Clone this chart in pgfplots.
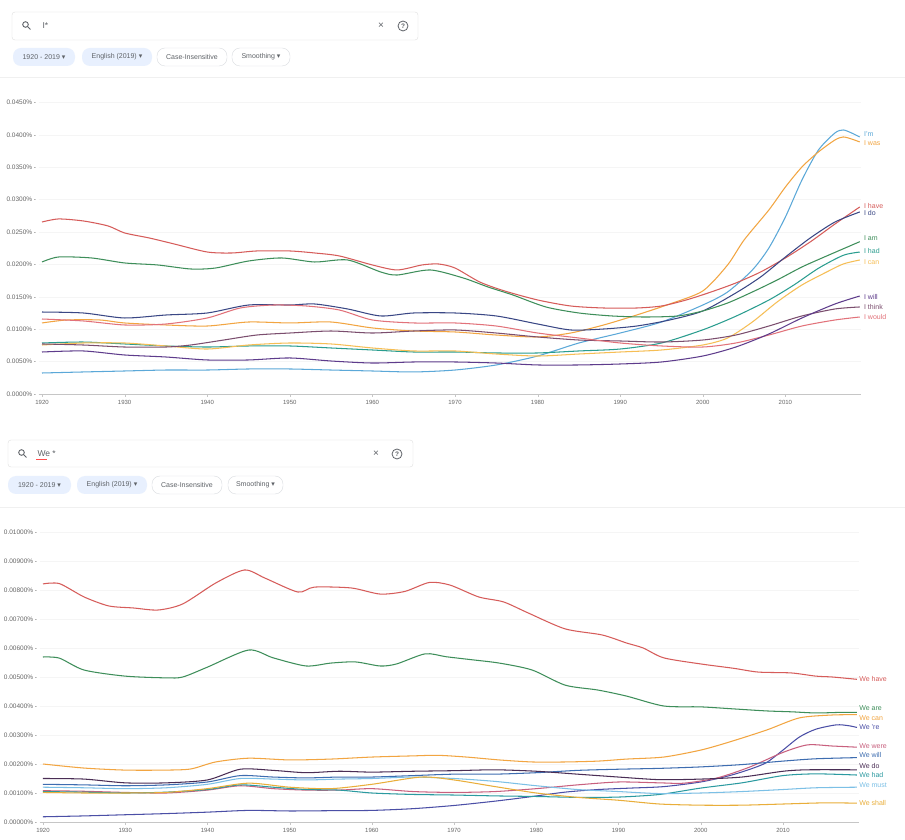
\documentclass[border=0pt]{standalone}
\usepackage{fontspec}
\setmainfont{Liberation Sans}
\newfontfamily\sym{DejaVu Sans}
\usepackage{pgfplots}
\pgfplotsset{compat=1.18}

% top chart colours
\definecolor{cRed}{HTML}{D65C5A}
\definecolor{cGreen}{HTML}{3E8E5A}
\definecolor{cNavy}{HTML}{3A4785}
\definecolor{cOrange}{HTML}{F2A541}
\definecolor{cLBlue}{HTML}{5BA8D8}
\definecolor{cTeal}{HTML}{2A9D8F}
\definecolor{cYellow}{HTML}{F6BE55}
\definecolor{cPurple}{HTML}{5E3C8C}
\definecolor{cThink}{HTML}{7B4E6E}
\definecolor{cPink}{HTML}{E2727A}
% bottom chart colours
\definecolor{bIndigo}{HTML}{4B4FA6}
\definecolor{bPink}{HTML}{C8607E}
\definecolor{bBlue}{HTML}{3E6DB0}
\definecolor{bDark}{HTML}{4A2E55}
\definecolor{bTeal}{HTML}{2B9AA0}
\definecolor{bSky}{HTML}{7CC0E6}
\definecolor{bGold}{HTML}{E9AE3A}
% ui
\definecolor{chipblue}{HTML}{E8F0FE}
\definecolor{uigray}{HTML}{5F6368}
\definecolor{uiline}{HTML}{DADCE0}

\pgfplotsset{ngram/.style={
    scale only axis, no markers,
    xmin=1919.6, xmax=2019.2, ymin=0,
    axis x line*=bottom, axis y line*=left,
    x axis line style={-, draw=gray!45},
    y axis line style={draw=none},
    ytick style={draw=none}, xtick style={draw=gray!45},
    tick align=outside, major tick length=3pt,
    scaled y ticks=false,
    xtick={1920,1930,1940,1950,1960,1970,1980,1990,2000,2010},
    xticklabels={1920,1930,1940,1950,1960,1970,1980,1990,2000,2010},
    ymajorgrids, major grid style={gray!8},
    ticklabel style={text=gray!80!black},
    xticklabel style={font=\fontsize{6}{7}\selectfont},
    yticklabel style={font=\fontsize{6.5}{7}\selectfont, xshift=4pt},
    every axis plot/.append style={line width=1.05pt, smooth, tension=0.45},
    clip=false,
}}
\tikzset{lab/.style={anchor=west, inner sep=0.5pt, font=\fontsize{7}{8}\selectfont},
         chip/.style={font=\fontsize{7}{8}\selectfont, text=uigray}}

\begin{document}
\begin{tikzpicture}
\path[use as bounding box, fill=white] (0,0) rectangle (905pt,839pt);

% search bars and chips (y measured from the top)
\begin{scope}[x=1pt, y=-1pt, yshift=839pt]
  % top
  \draw[gray!25, rounded corners=3pt, fill=white] (12,12) rectangle (418,40);
  \draw[uigray, line width=0.9pt] (25.5,24.5) circle (2.8pt);
  \draw[uigray, line width=1pt] (27.6,26.6) -- (30.5,29.5);
  \node[anchor=west, font=\fontsize{8.5}{9}\selectfont, text=uigray] at (39,26) {I*};
  \node[font=\fontsize{10}{10}\selectfont, text=uigray] at (381,26) {×};
  \draw[uigray, line width=0.8pt] (403,26) circle (5pt);
  \node[font=\fontsize{6.5}{7}\selectfont\bfseries, text=uigray] at (403,26) {?};
  \fill[chipblue, rounded corners=8pt] (13,48) rectangle (75,66);
  \node[chip] at (44,57) {1920 - 2019 {\sym ▾}};
  \fill[chipblue, rounded corners=8pt] (82,48) rectangle (152,66);
  \node[chip] at (117,57) {English (2019) {\sym ▾}};
  \draw[uiline, rounded corners=8pt] (157,48) rectangle (227,66);
  \node[chip] at (192,57) {Case-Insensitive};
  \draw[uiline, rounded corners=8pt] (232,48) rectangle (290,66);
  \node[chip] at (261,57) {Smoothing {\sym ▾}};
  \draw[gray!12, line width=0.8pt] (0,77) -- (905,77);
  % bottom
  \draw[gray!25, rounded corners=3pt, fill=white] (8,440) rectangle (413,467);
  \draw[uigray, line width=0.9pt] (21.5,452.5) circle (2.8pt);
  \draw[uigray, line width=1pt] (23.6,454.6) -- (26.5,457.5);
  \node[anchor=west, font=\fontsize{8.5}{9}\selectfont, text=uigray] at (34,454) {We *};
  \draw[red!70, line width=0.6pt] (36,459.5) -- (47,459.5);
  \node[font=\fontsize{10}{10}\selectfont, text=uigray] at (376,454) {×};
  \draw[uigray, line width=0.8pt] (397,454) circle (5pt);
  \node[font=\fontsize{6.5}{7}\selectfont\bfseries, text=uigray] at (397,454) {?};
  \fill[chipblue, rounded corners=8pt] (8,476) rectangle (71,494);
  \node[chip] at (39.5,485) {1920 - 2019 {\sym ▾}};
  \fill[chipblue, rounded corners=8pt] (77,476) rectangle (147,494);
  \node[chip] at (112,485) {English (2019) {\sym ▾}};
  \draw[uiline, rounded corners=8pt] (152,476) rectangle (222,494);
  \node[chip] at (187,485) {Case-Insensitive};
  \draw[uiline, rounded corners=8pt] (228,476) rectangle (283,494);
  \node[chip] at (255.5,485) {Smoothing {\sym ▾}};
  \draw[gray!12, line width=0.8pt] (0,507) -- (905,507);
\end{scope}

% ---------- I* ----------
\begin{axis}[ngram, at={(38.7pt,445pt)}, anchor=south west,
    width=822.7pt, height=304.6pt, ymax=0.047,
    ytick={0,0.005,0.01,0.015,0.02,0.025,0.03,0.035,0.04,0.045},
    yticklabels={0.0000\% -,0.0050\% -,0.0100\% -,0.0150\% -,0.0200\% -,
                 0.0250\% -,0.0300\% -,0.0350\% -,0.0400\% -,0.0450\% -}]
\addplot[cLBlue] coordinates {(1920,0.00324)(1925,0.00340)(1930,0.00355)(1935,0.00370)(1940,0.00370)(1945,0.00386)(1950,0.00386)(1955,0.00370)(1960,0.00355)(1965,0.00340)(1970,0.00370)(1975,0.00448)(1980,0.00586)(1985,0.00787)(1990,0.00941)(1995,0.01111)(2000,0.01373)(2003,0.01574)(2006,0.01914)(2008,0.02253)(2010,0.02731)(2012,0.03302)(2014,0.03765)(2016,0.04028)(2017,0.04074)(2018,0.04028)(2019,0.03966)};
\addplot[cOrange] coordinates {(1920,0.01096)(1923,0.01142)(1927,0.01142)(1930,0.01096)(1935,0.01065)(1940,0.01049)(1945,0.01111)(1950,0.01096)(1955,0.01111)(1960,0.01019)(1965,0.00972)(1970,0.00957)(1975,0.00910)(1980,0.00880)(1984,0.00941)(1988,0.01065)(1992,0.01219)(1996,0.01389)(2000,0.01590)(2003,0.01991)(2005,0.02377)(2008,0.02840)(2010,0.03194)(2012,0.03503)(2014,0.03735)(2016,0.03920)(2017,0.03966)(2018,0.03935)(2019,0.03889)};
\addplot[cRed] coordinates {(1920,0.02654)(1922,0.02701)(1925,0.02670)(1928,0.02593)(1930,0.02485)(1933,0.02407)(1936,0.02315)(1940,0.02191)(1943,0.02176)(1946,0.02207)(1950,0.02207)(1953,0.02176)(1956,0.02130)(1960,0.01991)(1963,0.01914)(1966,0.01991)(1968,0.02006)(1970,0.01944)(1973,0.01728)(1976,0.01590)(1980,0.01451)(1984,0.01358)(1988,0.01327)(1992,0.01327)(1995,0.01358)(1998,0.01451)(2001,0.01574)(2004,0.01713)(2007,0.01883)(2010,0.02099)(2013,0.02346)(2016,0.02623)(2019,0.02886)};
\addplot[cNavy] coordinates {(1920,0.01265)(1925,0.01250)(1930,0.01173)(1935,0.01219)(1940,0.01250)(1945,0.01373)(1950,0.01373)(1953,0.01389)(1957,0.01312)(1961,0.01204)(1965,0.01250)(1970,0.01250)(1975,0.01204)(1980,0.01080)(1984,0.00988)(1988,0.01003)(1992,0.01049)(1996,0.01142)(2000,0.01281)(2004,0.01559)(2007,0.01806)(2010,0.02114)(2013,0.02407)(2016,0.02654)(2019,0.02809)};
\addplot[cGreen] coordinates {(1920,0.02037)(1922,0.02114)(1926,0.02099)(1930,0.02022)(1934,0.01991)(1938,0.01929)(1941,0.01944)(1945,0.02052)(1949,0.02099)(1953,0.02037)(1957,0.02068)(1961,0.01883)(1963,0.01836)(1967,0.01914)(1971,0.01790)(1974,0.01651)(1977,0.01528)(1981,0.01343)(1985,0.01250)(1989,0.01204)(1993,0.01188)(1997,0.01204)(2000,0.01281)(2003,0.01404)(2006,0.01574)(2009,0.01759)(2012,0.01960)(2015,0.02130)(2019,0.02350)};
\addplot[cTeal] coordinates {(1920,0.00787)(1925,0.00802)(1930,0.00772)(1935,0.00741)(1940,0.00725)(1945,0.00741)(1950,0.00741)(1955,0.00710)(1960,0.00679)(1965,0.00648)(1970,0.00648)(1975,0.00633)(1980,0.00633)(1985,0.00664)(1990,0.00694)(1995,0.00787)(2000,0.00990)(2004,0.01200)(2008,0.01450)(2011,0.01680)(2014,0.01940)(2017,0.02140)(2019,0.02190)};
\addplot[cYellow] coordinates {(1920,0.00756)(1925,0.00787)(1930,0.00787)(1935,0.00741)(1940,0.00694)(1945,0.00756)(1950,0.00787)(1955,0.00772)(1960,0.00710)(1965,0.00664)(1970,0.00664)(1975,0.00617)(1980,0.00586)(1985,0.00617)(1990,0.00648)(1995,0.00679)(2000,0.00756)(2003,0.00864)(2006,0.01111)(2009,0.01420)(2012,0.01682)(2015,0.01883)(2017,0.02006)(2019,0.02068)};
\addplot[cThink] coordinates {(1920,0.00772)(1925,0.00756)(1930,0.00725)(1935,0.00725)(1938,0.00756)(1942,0.00833)(1946,0.00910)(1950,0.00941)(1955,0.00972)(1960,0.00941)(1965,0.00972)(1970,0.00988)(1975,0.00941)(1980,0.00880)(1985,0.00833)(1990,0.00818)(1995,0.00802)(2000,0.00833)(2004,0.00910)(2008,0.01049)(2012,0.01204)(2016,0.01312)(2019,0.01343)};
\addplot[cPink] coordinates {(1920,0.01157)(1925,0.01127)(1930,0.01065)(1935,0.01080)(1940,0.01173)(1944,0.01327)(1948,0.01373)(1952,0.01358)(1956,0.01296)(1960,0.01142)(1965,0.01096)(1970,0.01096)(1975,0.01049)(1980,0.00941)(1985,0.00864)(1990,0.00787)(1995,0.00741)(2000,0.00725)(2004,0.00787)(2008,0.00910)(2012,0.01049)(2016,0.01142)(2019,0.01188)};
\addplot[cPurple] coordinates {(1920,0.00648)(1925,0.00664)(1930,0.00602)(1935,0.00571)(1940,0.00525)(1945,0.00525)(1950,0.00556)(1955,0.00509)(1960,0.00478)(1965,0.00494)(1970,0.00494)(1975,0.00478)(1980,0.00448)(1985,0.00448)(1990,0.00463)(1995,0.00494)(2000,0.00586)(2004,0.00725)(2008,0.00926)(2012,0.01173)(2016,0.01389)(2019,0.01512)};
\node[lab, text=cLBlue, xshift=2pt] at (axis cs:2019.2,0.04012) {I'm};
\node[lab, text=cOrange, xshift=2pt] at (axis cs:2019.2,0.03873) {I was};
\node[lab, text=cRed, xshift=2pt] at (axis cs:2019.2,0.02901) {I have};
\node[lab, text=cNavy, xshift=2pt] at (axis cs:2019.2,0.02793) {I do};
\node[lab, text=cGreen, xshift=2pt] at (axis cs:2019.2,0.02407) {I am};
\node[lab, text=cTeal, xshift=2pt] at (axis cs:2019.2,0.02207) {I had};
\node[lab, text=cYellow, xshift=2pt] at (axis cs:2019.2,0.02037) {I can};
\node[lab, text=cPurple, xshift=2pt] at (axis cs:2019.2,0.01497) {I will};
\node[lab, text=cThink, xshift=2pt] at (axis cs:2019.2,0.01343) {I think};
\node[lab, text=cPink, xshift=2pt] at (axis cs:2019.2,0.01188) {I would};
\end{axis}

% ---------- We * ----------
\begin{axis}[ngram, at={(39.7pt,17pt)}, anchor=south west,
    width=818.9pt, height=304.5pt, ymax=0.0105,
    ytick={0,0.001,0.002,0.003,0.004,0.005,0.006,0.007,0.008,0.009,0.01},
    yticklabels={0.00000\% -,0.00100\% -,0.00200\% -,0.00300\% -,0.00400\% -,0.00500\% -,
                 0.00600\% -,0.00700\% -,0.00800\% -,0.00900\% -,0.01000\% -}]
\addplot[cRed] coordinates {(1920,0.00821)(1922,0.00822)(1925,0.00776)(1928,0.00745)(1931,0.00738)(1934,0.00731)(1937,0.00752)(1941,0.00824)(1944.5,0.00869)(1947,0.00841)(1951,0.00793)(1953,0.00810)(1957.5,0.00807)(1961,0.00786)(1964,0.00795)(1967,0.00826)(1969.5,0.00817)(1973,0.00776)(1976,0.00759)(1979,0.00721)(1983.5,0.00666)(1988,0.00645)(1991,0.00617)(1993,0.00600)(1995.5,0.00566)(2000,0.00545)(2004,0.00530)(2007,0.00517)(2011,0.00514)(2014,0.00503)(2016,0.00500)(2019,0.00492)};
\addplot[cGreen] coordinates {(1920,0.00569)(1922,0.00565)(1925,0.00524)(1930,0.00503)(1935,0.00497)(1937,0.00500)(1940,0.00534)(1945,0.00593)(1948,0.00566)(1952,0.00538)(1955,0.00548)(1958,0.00552)(1961,0.00538)(1963,0.00545)(1966.5,0.00580)(1969,0.00570)(1972,0.00560)(1975.5,0.00548)(1979.5,0.00524)(1983.5,0.00472)(1987.5,0.00455)(1991,0.00434)(1995.5,0.00400)(2000,0.00397)(2004,0.00390)(2008,0.00383)(2011,0.00380)(2014,0.00376)(2017,0.00378)(2019,0.00378)};
\addplot[cOrange] coordinates {(1920,0.00200)(1925,0.00186)(1930,0.00179)(1935,0.00179)(1938,0.00183)(1941,0.00207)(1945,0.00220)(1950,0.00214)(1955,0.00217)(1960,0.00224)(1965,0.00228)(1968,0.00230)(1971.5,0.00224)(1975.5,0.00214)(1979.5,0.00207)(1983.5,0.00207)(1987.5,0.00210)(1991,0.00217)(1995.5,0.00224)(2000,0.00248)(2003.5,0.00276)(2008,0.00317)(2012,0.00359)(2016,0.00369)(2019,0.00370)};
\addplot[bIndigo] coordinates {(1920,0.00018)(1925,0.00021)(1930,0.00025)(1935,0.00029)(1940,0.00034)(1945,0.00040)(1950,0.00038)(1955,0.00039)(1960,0.00040)(1965,0.00046)(1970,0.00057)(1975,0.00072)(1979,0.00086)(1983.5,0.00103)(1987.5,0.00112)(1991.5,0.00117)(1995.5,0.00122)(2000,0.00138)(2003.5,0.00160)(2006,0.00182)(2008,0.00205)(2010,0.00248)(2012,0.00293)(2014,0.00320)(2016.5,0.00335)(2018,0.00332)(2019,0.00326)};
\addplot[bPink] coordinates {(1920,0.00108)(1925,0.00106)(1930,0.00102)(1935,0.00100)(1940,0.00110)(1944,0.00125)(1948,0.00115)(1952,0.00110)(1956,0.00110)(1960,0.00115)(1965,0.00105)(1970,0.00102)(1975,0.00105)(1980,0.00115)(1985,0.00128)(1990,0.00138)(1995,0.00135)(1998,0.00134)(2002,0.00152)(2006,0.00190)(2010,0.00240)(2013,0.00266)(2016,0.00262)(2019,0.00258)};
\addplot[bBlue] coordinates {(1920,0.00130)(1925,0.00128)(1930,0.00125)(1935,0.00128)(1940,0.00138)(1944,0.00160)(1948,0.00155)(1952,0.00152)(1956,0.00155)(1960,0.00155)(1965,0.00160)(1970,0.00165)(1975,0.00165)(1980,0.00170)(1985,0.00178)(1990,0.00182)(1995,0.00185)(2000,0.00190)(2005,0.00198)(2010,0.00210)(2014,0.00218)(2019,0.00222)};
\addplot[bDark] coordinates {(1920,0.00150)(1925,0.00148)(1930,0.00135)(1935,0.00135)(1940,0.00145)(1944,0.00182)(1948,0.00178)(1952,0.00170)(1956,0.00175)(1960,0.00172)(1965,0.00175)(1970,0.00177)(1975,0.00180)(1980,0.00175)(1985,0.00165)(1990,0.00155)(1995,0.00146)(2000,0.00148)(2005,0.00155)(2010,0.00175)(2013,0.00180)(2019,0.00180)};
\addplot[bTeal] coordinates {(1920,0.00105)(1925,0.00103)(1930,0.00100)(1935,0.00103)(1940,0.00112)(1944,0.00128)(1948,0.00120)(1952,0.00112)(1956,0.00110)(1960,0.00100)(1965,0.00095)(1970,0.00093)(1975,0.00090)(1980,0.00088)(1985,0.00085)(1990,0.00086)(1995,0.00095)(2000,0.00117)(2005,0.00135)(2010,0.00160)(2014,0.00166)(2019,0.00162)};
\addplot[bSky] coordinates {(1920,0.00120)(1925,0.00118)(1930,0.00115)(1935,0.00118)(1940,0.00130)(1944,0.00150)(1948,0.00148)(1952,0.00145)(1956,0.00148)(1960,0.00150)(1965,0.00155)(1970,0.00150)(1975,0.00140)(1980,0.00125)(1985,0.00112)(1990,0.00105)(1995,0.00098)(2000,0.00100)(2005,0.00105)(2010,0.00112)(2014,0.00118)(2019,0.00120)};
\addplot[bGold] coordinates {(1920,0.00102)(1925,0.00100)(1930,0.00100)(1935,0.00102)(1940,0.00115)(1945,0.00134)(1950,0.00120)(1955,0.00115)(1960,0.00130)(1966,0.00155)(1970,0.00145)(1975,0.00122)(1980,0.00100)(1985,0.00085)(1990,0.00075)(1995,0.00062)(2000,0.00058)(2005,0.00058)(2010,0.00062)(2015,0.00066)(2019,0.00065)};
\node[lab, text=cRed] at (axis cs:2019.2,0.00493) {We have};
\node[lab, text=cGreen] at (axis cs:2019.2,0.00393) {We are};
\node[lab, text=cOrange] at (axis cs:2019.2,0.00359) {We can};
\node[lab, text=bIndigo] at (axis cs:2019.2,0.00328) {We 're};
\node[lab, text=bPink] at (axis cs:2019.2,0.00262) {We were};
\node[lab, text=bBlue] at (axis cs:2019.2,0.00231) {We will};
\node[lab, text=bDark] at (axis cs:2019.2,0.00193) {We do};
\node[lab, text=bTeal] at (axis cs:2019.2,0.00162) {We had};
\node[lab, text=bSky] at (axis cs:2019.2,0.00128) {We must};
\node[lab, text=bGold] at (axis cs:2019.2,0.00066) {We shall};
\end{axis}
\end{tikzpicture}
\end{document}
